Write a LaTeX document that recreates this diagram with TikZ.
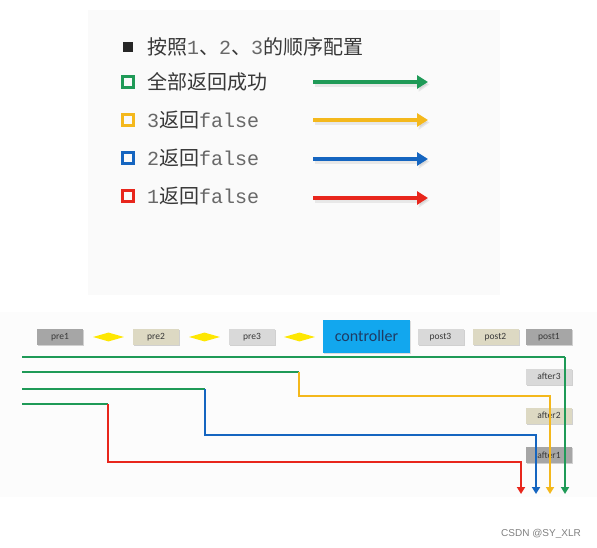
\documentclass[tikz,border=0pt]{standalone}
\usepackage{fontspec}
\setmainfont{Carlito}
\newfontfamily\cjk{Noto Sans CJK SC}
\newfontfamily\mono{Liberation Mono}
\newfontfamily\wm{Liberation Sans}
\usetikzlibrary{arrows.meta,shapes.geometric,shadows}
\definecolor{cgreen}{HTML}{1F9A57}
\definecolor{cyellow}{HTML}{F4B81C}
\definecolor{cblue}{HTML}{1565C0}
\definecolor{cred}{HTML}{E8261C}
\definecolor{gdark}{HTML}{A6A6A6}
\definecolor{glight}{HTML}{D9D9D9}
\definecolor{beige}{HTML}{DDD9C3}
\definecolor{ctrl}{HTML}{12A7EE}
\definecolor{ctrltext}{HTML}{1F3B63}
\definecolor{txtdark}{HTML}{383838}
\definecolor{txtmono}{HTML}{686868}
\tikzset{
  lgtext/.style={anchor=west,inner sep=0pt,text=txtdark,font=\cjk\fontsize{20}{22}\selectfont},
  lgarrow/.style={line width=4.5pt,-{Triangle[width=13pt,length=11pt]}},
  lgshadow/.style={line width=5pt,draw=black,fill=black,opacity=0.07,-{Triangle[width=14pt,length=11pt]}},
  lgbox/.style={draw,line width=3pt,minimum size=10.5pt,inner sep=0pt},
  smallbox/.style={minimum width=46pt,minimum height=16pt,inner sep=0pt,text=txtdark,
    font=\fontsize{9.5}{10}\selectfont,
    drop shadow={opacity=0.35,shadow xshift=1.2pt,shadow yshift=-1.2pt}},
  dia/.style={diamond,fill=yellow!90!orange,minimum width=31pt,minimum height=9pt,inner sep=0pt,aspect=3.4},
  flow/.style={line width=2.6pt,line join=miter},
  flowarr/.style={line width=2.6pt,-{Triangle[width=8pt,length=7pt]}},
}
\begin{document}
\begin{tikzpicture}[x=1pt,y=-1pt]
\useasboundingbox (0,0) rectangle (597,548);
\fill[white] (0,0) rectangle (597,548);
\fill[black!2] (88,10) rectangle (500,295);
\fill[black!1] (0,312) rectangle (597,497);

% legend
\node[fill=black!85,minimum size=10pt,inner sep=0pt] (b0) at (127.5,47) {};
\node[lgtext] (t0) at (147,47) {按照{\mono\color{txtmono}1}、{\mono\color{txtmono}2}、{\mono\color{txtmono}3}的顺序配置};

\node[lgbox,draw=cgreen] (b1) at (128,82) {};
\node[lgtext] (t1) at (147,82) {全部返回成功};
\node[lgbox,draw=cyellow] (b2) at (128,120) {};
\node[lgtext] (t2) at (147,120) {{\mono\color{txtmono}3}返回{\mono\color{txtmono}false}};
\node[lgbox,draw=cblue] (b3) at (128,158) {};
\node[lgtext] (t3) at (147,158) {{\mono\color{txtmono}2}返回{\mono\color{txtmono}false}};
\node[lgbox,draw=cred] (b4) at (128,196) {};
\node[lgtext] (t4) at (147,196) {{\mono\color{txtmono}1}返回{\mono\color{txtmono}false}};

\foreach \y/\c [count=\i] in {82/cgreen,120/cyellow,159/cblue,198/cred}{
  \coordinate (la\i) at (313,\y);
  \coordinate (lb\i) at (428,\y);
  \draw[lgshadow,transform canvas={xshift=1.5pt,yshift=-2.5pt}] (la\i) -- (lb\i);
  \draw[lgarrow,draw=\c,fill=\c] (la\i) -- (lb\i);
}

% top row of boxes
\node[smallbox,fill=gdark] (pre1) at (60,337) {pre1};
\node[dia] (d1) at (108.5,337) {};
\node[smallbox,fill=beige] (pre2) at (156,337) {pre2};
\node[dia] (d2) at (204.5,337) {};
\node[smallbox,fill=glight] (pre3) at (252,337) {pre3};
\node[dia] (d3) at (299.5,337) {};
\node[fill=ctrl,minimum width=87pt,minimum height=33pt,inner sep=0pt,text=ctrltext,
  font=\fontsize{16}{18}\selectfont,drop shadow={opacity=0.25,shadow xshift=1.2pt,shadow yshift=-1.2pt}] (ctl) at (366.5,336.5) {controller};
\node[smallbox,fill=glight] (post3) at (440.5,337) {post3};
\node[smallbox,fill=beige] (post2) at (495.5,337) {post2};
\node[smallbox,fill=gdark] (post1) at (549,337) {post1};
\node[smallbox,fill=glight] (after3) at (549,376.5) {after3};
\node[smallbox,fill=beige] (after2) at (549,415.5) {after2};
\node[smallbox,fill=gdark] (after1) at (549,455) {after1};

% flow lines
\coordinate (g1s) at (22,357);
\coordinate (g1c) at (565,357);
\coordinate (g1e) at (565,494);
\draw[flow,cgreen] (g1s) -- (g1c);
\draw[flowarr,cgreen] (g1c) -- (g1e);

\coordinate (g2s) at (22,372);
\coordinate (g2c) at (299,372);
\coordinate (y2a) at (299,396);
\coordinate (y2b) at (550,396);
\coordinate (y2e) at (550,494);
\draw[flow,cgreen] (g2s) -- (g2c);
\draw[flowarr,cyellow] (g2c) -- (y2a) -- (y2b) -- (y2e);

\coordinate (g3s) at (22,389);
\coordinate (g3c) at (205,389);
\coordinate (b3a) at (205,435);
\coordinate (b3b) at (536,435);
\coordinate (b3e) at (536,494);
\draw[flow,cgreen] (g3s) -- (g3c);
\draw[flowarr,cblue] (g3c) -- (b3a) -- (b3b) -- (b3e);

\coordinate (g4s) at (22,404);
\coordinate (g4c) at (108,404);
\coordinate (r4a) at (108,462);
\coordinate (r4b) at (521,462);
\coordinate (r4e) at (521,494);
\draw[flow,cgreen] (g4s) -- (g4c);
\draw[flowarr,cred] (g4c) -- (r4a) -- (r4b) -- (r4e);

\node[text=black!50,font=\wm\fontsize{10}{12}\selectfont,anchor=west,inner sep=0pt] (wm) at (501,534) {CSDN @SY\_XLR};
\end{tikzpicture}
\end{document}
